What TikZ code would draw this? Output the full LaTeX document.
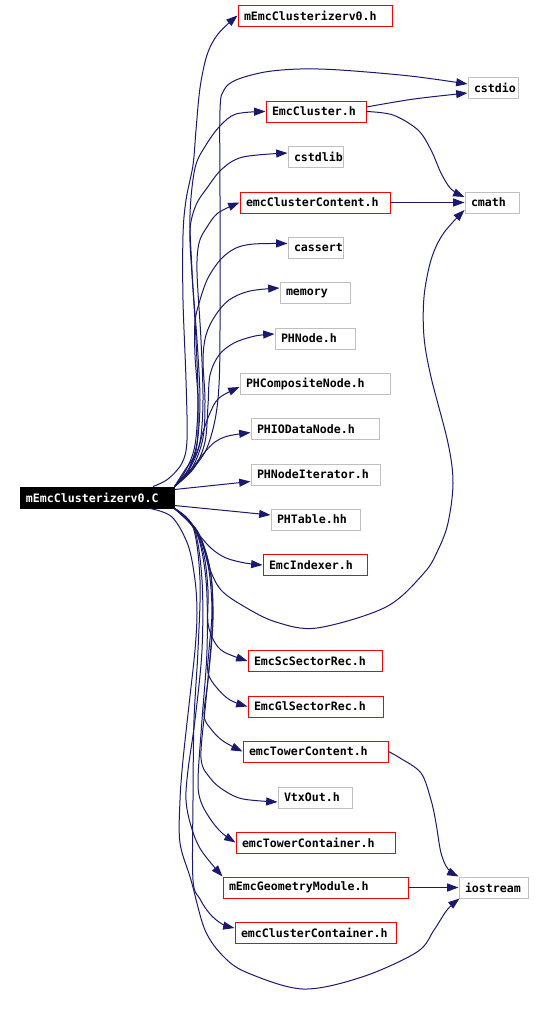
\documentclass[tikz,border=0pt]{standalone}
\usepackage{fontspec}
\newfontfamily\doxfont{DejaVu Sans Mono}[HyphenChar=None]
\usetikzlibrary{arrows.meta,calc}
\definecolor{navy}{RGB}{25,25,112}
\definecolor{boxgray}{RGB}{191,191,191}
\begin{document}
\begin{tikzpicture}[x=0.75pt,y=-0.75pt,
  dbox/.style={draw, line width=0.75pt, inner xsep=4.5pt, inner ysep=0pt, align=left,
    minimum height=21*0.75pt,
    font=\doxfont\bfseries\fontsize{8.7}{10}\selectfont},
  rbox/.style={dbox, draw=red},
  gbox/.style={dbox, draw=boxgray},
  mainbox/.style={dbox, draw=black, fill=black, text=white},
  depline/.style={draw=navy, line width=0.75pt, -{Triangle[length=8.5pt,width=6pt]}},
  sm/.style={smooth, tension=0.55}]
\useasboundingbox (0,0) rectangle (543,1017);
% nodes
\node[rbox, text width=106.5pt] (h0) at (315,15.5) {mEmcClusterizerv0.h};
\node[gbox, text width=28.5pt] (cstdio) at (493,87.5) {cstdio};
\node[rbox, text width=66pt] (emccluster) at (316,111.5) {EmcCluster.h};
\node[gbox, text width=32.25pt] (cstdlib) at (315.5,157) {cstdlib};
\node[rbox, text width=103.5pt] (ccontent) at (315,202.5) {emcClusterContent.h};
\node[gbox, text width=31.5pt] (cmath) at (492,202.5) {cmath};
\node[gbox, text width=32.25pt] (cassert) at (315.5,247.5) {cassert};
\node[gbox, text width=43.5pt] (memory) at (315,293) {memory};
\node[gbox, text width=51pt] (phnode) at (315,338.5) {PHNode.h};
\node[gbox, text width=103.5pt] (phcomp) at (315,383.5) {PHCompositeNode.h};
\node[gbox, text width=87pt] (phio) at (315,429) {PHIODataNode.h};
\node[gbox, text width=87.75pt] (phiter) at (315.5,474.5) {PHNodeIterator.h};
\node[mainbox, text width=106.5pt, inner xsep=3.75pt, minimum width=154*0.75pt] (main) at (97,497.5) {mEmcClusterizerv0.C};
\node[gbox, text width=57.75pt] (phtable) at (315.5,519.5) {PHTable.hh};
\node[rbox, text width=69pt] (indexer) at (315,565) {EmcIndexer.h};
\node[rbox, text width=91.5pt] (scsector) at (315,661) {EmcScSectorRec.h};
\node[rbox, text width=92.25pt] (glsector) at (315.5,706.5) {EmcGlSectorRec.h};
\node[rbox, text width=99.75pt] (tcontent) at (315.5,751.5) {emcTowerContent.h};
\node[gbox, text width=46.5pt] (vtxout) at (315,797.5) {VtxOut.h};
\node[rbox, text width=110.25pt] (tcontainer) at (315.5,842.5) {emcTowerContainer.h};
\node[rbox, text width=129.75pt] (geom) at (315.5,887.5) {mEmcGeometryModule.h};
\node[gbox, text width=42.75pt] (iostream) at (493.5,887.5) {iostream};
\node[rbox, text width=111.75pt] (ccontainer) at (315.5,933) {emcClusterContainer.h};
% connector end points
\coordinate (mN2) at ($(main.north)+(56,0)$);
\coordinate (mNE) at (main.north east);
\coordinate (mSE) at (main.south east);
\coordinate (mSB) at ($(main.south)+(53,0)$);
\coordinate (ecs1) at ($(cstdio.west)+(0,-3.5)$);
\coordinate (ecs2) at ($(cstdio.west)+(0,5.5)$);
\coordinate (sec1) at ($(emccluster.east)+(0,-4.5)$);
\coordinate (ecm1) at ($(cmath.west)+(0,-5.5)$);
\coordinate (ecm3) at ($(cmath.west)+(0,7.5)$);
\coordinate (ecstdlib) at ($(cstdlib.west)+(0,-4)$);
\coordinate (ecassert) at ($(cassert.west)+(0,-4)$);
\coordinate (ememory) at ($(memory.west)+(0,-5)$);
\coordinate (ephnode) at ($(phnode.west)+(0,-4.5)$);
\coordinate (ephcomp) at ($(phcomp.west)+(0,3.5)$);
\coordinate (ephio) at ($(phio.west)+(0,3.5)$);
\coordinate (ephiter) at ($(phiter.west)+(0,7)$);
\coordinate (sphiter) at ($(main.east)+(0,-8)$);
\coordinate (sphtable) at ($(main.east)+(0,8)$);
\coordinate (ephtable) at ($(phtable.west)+(0,-4.5)$);
\coordinate (evtx) at ($(vtxout.west)+(0,4.5)$);
\coordinate (eccont) at ($(ccontainer.west)+(0,-5)$);
\coordinate (eios3) at ($(iostream.south west)+(1,0)$);
% upper connectors
\draw[depline] plot[sm] coordinates {(mN2) (168,479) (182,463) (187,440) (186,380) (183,300) (183,235) (186,200) (193,165) (196,130) (200,88) (207,55) (218,34) (h0.west)};
\draw[depline] plot[sm] coordinates {(mNE) (190,472) (206,450) (215,420) (219,385) (220,330) (220,200) (220,110) (224,90) (236,80) (265,72) (300,69) (340,70) (410,76) (ecs1)};
\draw[depline] plot[sm] coordinates {(mNE) (186,470) (195,445) (198,400) (196,340) (192,270) (190,215) (195,168) (206,145) (220,126) (236,114) (emccluster.west)};
\draw[depline] plot[sm] coordinates {(mNE) (188,470) (197,443) (200,400) (197,340) (192,275) (190,230) (196,205) (207,188) (222,169) (243,157) (ecstdlib)};
\draw[depline] plot[sm] coordinates {(mNE) (190,468) (200,442) (203,400) (201,340) (197,272) (199,243) (207,227) (218,213) (ccontent.west)};
\draw[depline] plot[sm] coordinates {(mNE) (189,469) (197,445) (198,400) (195,355) (195,322) (200,300) (208,278) (221,259) (236,248) (254,244) (ecassert)};
\draw[depline] plot[sm] coordinates {(mNE) (192,468) (203,438) (205,400) (203,360) (206,335) (215,316) (229,300) (250,291) (ememory)};
\draw[depline] plot[sm] coordinates {(mNE) (194,468) (205,442) (208,405) (210,375) (219,355) (234,343) (255,336) (ephnode)};
\draw[depline] plot[sm] coordinates {(mNE) (185,470) (197,452) (203,432) (210,413) (219,398) (ephcomp)};
\draw[depline] plot[sm] coordinates {(mNE) (180,481) (193,467) (204,453) (215,442) (228,436) (ephio)};
\draw[depline] (sphiter) -- (ephiter);
\draw[depline] (sphtable) -- (ephtable);
% lower connectors
\draw[depline] plot[sm] coordinates {(mSE) (188,521) (200,536) (212,549) (226,558) (245,563) (indexer.west)};
\draw[depline] plot[sm] coordinates {(mSE) (192,525) (203,545) (209,567) (221,590) (245,607) (276,622) (317,628) (386,607) (424,573) (438,550) (448,523) (453,483) (448,443) (431,377) (424,337) (424,297) (431,260) (443,234) (ecm3)};
\draw[depline] plot[sm] coordinates {(mSE) (194,528) (204,555) (208,590) (208,623) (214,641) (224,652) (scsector.west)};
\draw[depline] plot[sm] coordinates {(mSE) (196,530) (208,565) (212,610) (209,650) (208,673) (217,688) (230,700) (glsector.west)};
\draw[depline] plot[sm] coordinates {(mSE) (197,531) (210,570) (213,620) (208,680) (204,715) (211,729) (223,741) (tcontent.west)};
\draw[depline] plot[sm] coordinates {(mSE) (198,532) (211,575) (212,630) (206,700) (201,758) (211,779) (225,791) (243,799) (evtx)};
\draw[depline] plot[sm] coordinates {(mSE) (196,531) (206,580) (207,650) (202,720) (198,780) (201,802) (211,820) (222,833) (tcontainer.west)};
\draw[depline] plot[sm] coordinates {(mSE) (194,528) (202,580) (202,650) (195,720) (188,770) (186,800) (191,826) (201,850) (geom.north west)};
\draw[depline] plot[sm] coordinates {(mSE) (193,527) (200,580) (198,650) (194,720) (193,800) (193,880) (200,899) (210,914) (222,924) (eccont)};
\draw[depline] plot[sm] coordinates {(mSB) (172,517) (188,545) (195,580) (197,613) (195,650) (189,705) (183,760) (180,800) (180,843) (191,880) (205,930) (224,957) (248,973) (303,989) (362,977) (417,952) (434,930) (447,910) (eios3)};
% connectors between included files
\draw[depline] plot[sm] coordinates {(sec1) (414,99) (ecs2)};
\draw[depline] plot[sm] coordinates {(emccluster.east) (393,115) (418,130) (431,150) (441,173) (451,189) (ecm1)};
\draw[depline] (ccontent.east) -- (cmath.west);
\draw[depline] plot[sm] coordinates {(tcontent.east) (400,758) (421,773) (431,800) (436,823) (441,853) (448,869) (iostream.north west)};
\draw[depline] (geom.east) -- (iostream.west);
\end{tikzpicture}
\end{document}
